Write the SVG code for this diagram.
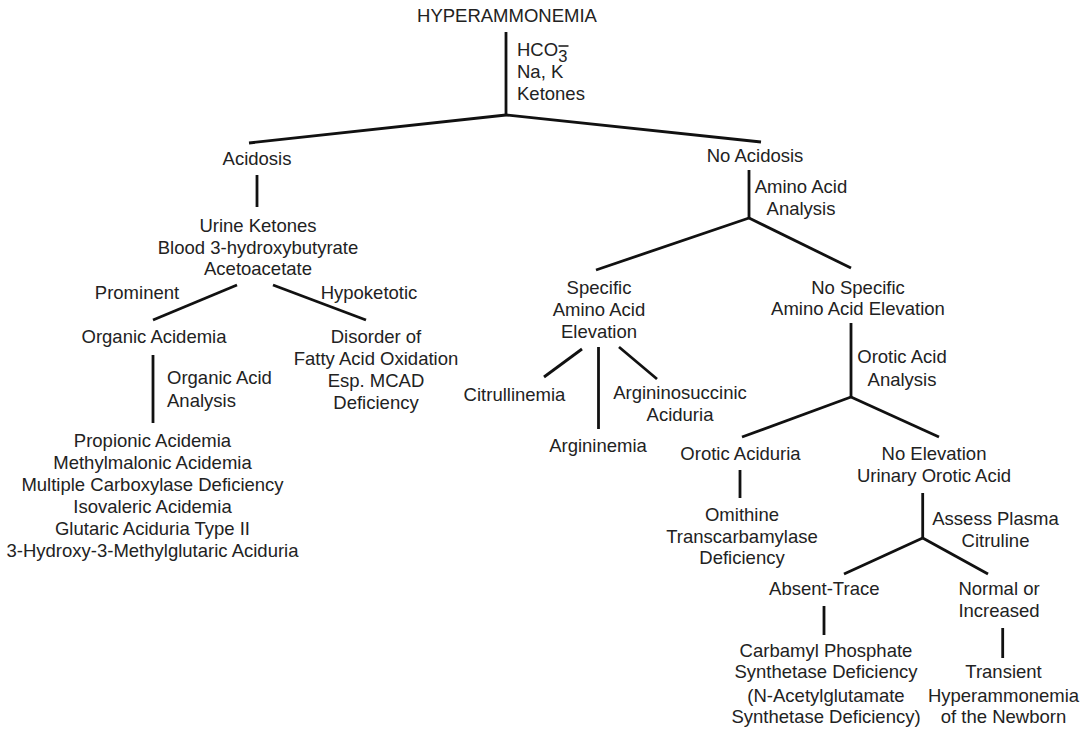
<svg xmlns="http://www.w3.org/2000/svg" width="1091" height="730" viewBox="0 0 1091 730">
<style>
text{font-family:"Liberation Sans",Arial,sans-serif;font-size:18.5px;fill:#222;text-anchor:middle}
text.l{text-anchor:start}
.c line{stroke:#111;stroke-width:2.8;stroke-linecap:butt}
</style>
<rect width="1091" height="730" fill="#fff"/>
<g class="c" id="connectors">
<line x1="506" y1="32" x2="506" y2="115"/>
<line x1="506" y1="115" x2="249" y2="143"/>
<line x1="506" y1="115" x2="761" y2="142"/>
<line x1="257" y1="175" x2="257" y2="207"/>
<line x1="237" y1="285" x2="153" y2="320"/>
<line x1="273" y1="285" x2="366" y2="320"/>
<line x1="153" y1="355" x2="153" y2="423"/>
<line x1="749" y1="170" x2="749" y2="218"/>
<line x1="749" y1="218" x2="596" y2="270"/>
<line x1="749" y1="218" x2="851" y2="268"/>
<line x1="582" y1="349" x2="544" y2="377"/>
<line x1="598.5" y1="347" x2="598.5" y2="429"/>
<line x1="619" y1="347" x2="657" y2="379"/>
<line x1="851" y1="323" x2="851" y2="397"/>
<line x1="851" y1="397" x2="742" y2="437"/>
<line x1="851" y1="397" x2="939" y2="437"/>
<line x1="740" y1="470" x2="740" y2="498"/>
<line x1="922.7" y1="493" x2="922.7" y2="538"/>
<line x1="922.7" y1="538" x2="844" y2="574"/>
<line x1="922.7" y1="538" x2="988" y2="574"/>
<line x1="824" y1="606" x2="824" y2="635"/>
<line x1="1002.7" y1="628" x2="1002.7" y2="658"/>
</g>
<g id="n-hyper"><text x="507" y="22">HYPERAMMONEMIA</text></g>
<g id="l-hco3">
<text class="l" x="517" y="56">HCO<tspan dy="6" style="font-size:16.5px">3</tspan></text>
<line x1="558.5" y1="46" x2="568.5" y2="46" stroke="#222" stroke-width="1.6"/>
<text class="l" x="517" y="78">Na, K</text>
<text class="l" x="517" y="100">Ketones</text>
</g>
<g id="n-acidosis"><text x="257" y="165">Acidosis</text></g>
<g id="n-ketones">
<text x="258" y="232">Urine Ketones</text>
<text x="258" y="253.5">Blood 3-hydroxybutyrate</text>
<text x="258" y="275">Acetoacetate</text>
</g>
<g id="l-prominent"><text x="137" y="299">Prominent</text></g>
<g id="l-hypoketotic"><text x="369" y="299">Hypoketotic</text></g>
<g id="n-organic"><text x="154" y="342.5">Organic Acidemia</text></g>
<g id="n-fatty">
<text x="376" y="342.5">Disorder of</text>
<text x="376" y="365">Fatty Acid Oxidation</text>
<text x="376" y="387">Esp. MCAD</text>
<text x="376" y="409">Deficiency</text>
</g>
<g id="l-oaa">
<text class="l" x="167" y="384">Organic Acid</text>
<text class="l" x="167" y="406.5">Analysis</text>
</g>
<g id="n-oalist">
<text x="152.5" y="446.5">Propionic Acidemia</text>
<text x="152.5" y="468.5">Methylmalonic Acidemia</text>
<text x="152.5" y="490.5">Multiple Carboxylase Deficiency</text>
<text x="152.5" y="512.5">Isovaleric Acidemia</text>
<text x="152.5" y="534.5">Glutaric Aciduria Type II</text>
<text x="152.5" y="556.5">3-Hydroxy-3-Methylglutaric Aciduria</text>
</g>
<g id="n-noacidosis"><text x="755" y="162">No Acidosis</text></g>
<g id="l-aaa">
<text x="801" y="193">Amino Acid</text>
<text x="801" y="215">Analysis</text>
</g>
<g id="n-specific">
<text x="599" y="294">Specific</text>
<text x="599" y="316">Amino Acid</text>
<text x="599" y="338">Elevation</text>
</g>
<g id="n-citrullinemia"><text x="514.5" y="400.5">Citrullinemia</text></g>
<g id="n-argininemia"><text x="598" y="451.5">Argininemia</text></g>
<g id="n-asa">
<text x="680" y="398.5">Argininosuccinic</text>
<text x="680" y="420.5">Aciduria</text>
</g>
<g id="n-nospecific">
<text x="858" y="293.5">No Specific</text>
<text x="858" y="315">Amino Acid Elevation</text>
</g>
<g id="l-ota">
<text x="902" y="363">Orotic Acid</text>
<text x="902" y="386">Analysis</text>
</g>
<g id="n-oroticaciduria"><text x="740.5" y="460">Orotic Aciduria</text></g>
<g id="n-noelevation">
<text x="934" y="460">No Elevation</text>
<text x="934" y="482">Urinary Orotic Acid</text>
</g>
<g id="n-otc">
<text x="742" y="520.7">Omithine</text>
<text x="742" y="542.7">Transcarbamylase</text>
<text x="742" y="563.7">Deficiency</text>
</g>
<g id="l-apc">
<text x="995.5" y="525">Assess Plasma</text>
<text x="995.5" y="546.5">Citruline</text>
</g>
<g id="n-absent"><text x="824.3" y="595">Absent-Trace</text></g>
<g id="n-normal">
<text x="999" y="595">Normal or</text>
<text x="999" y="616.7">Increased</text>
</g>
<g id="n-cps">
<text x="826" y="656.7">Carbamyl Phosphate</text>
<text x="826" y="678.3">Synthetase Deficiency</text>
<text x="826" y="701.7">(N-Acetylglutamate</text>
<text x="826" y="723.3">Synthetase Deficiency)</text>
</g>
<g id="n-transient">
<text x="1003.5" y="678.3">Transient</text>
<text x="1003.5" y="701.7">Hyperammonemia</text>
<text x="1003.5" y="723.3">of the Newborn</text>
</g>
</svg>
